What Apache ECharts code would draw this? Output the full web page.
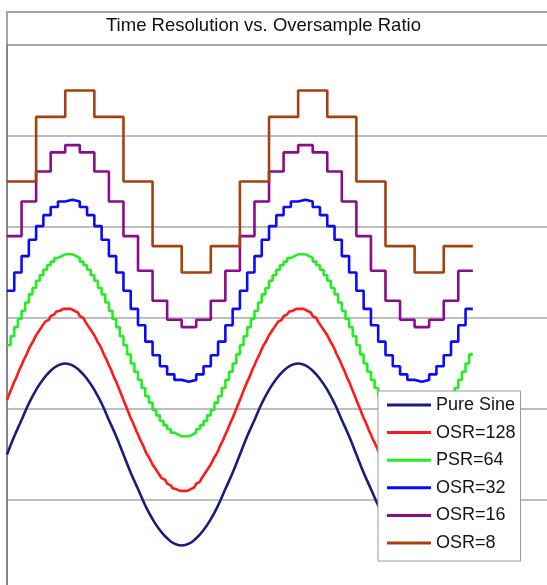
<!DOCTYPE html>
<html>
<head>
<meta charset="utf-8">
<title>Time Resolution vs. Oversample Ratio</title>
<script src="https://cdn.jsdelivr.net/npm/echarts@6/dist/echarts.min.js"></script>
<style>
  html, body { margin: 0; padding: 0; background: #fff; }
  #chart { width: 547px; height: 585px; }
</style>
</head>
<body>
<div id="chart"></div>
<script>
// series names (legend order)
const seriesNames = ['Pure Sine', 'OSR=128', 'PSR=64', 'OSR=32', 'OSR=16', 'OSR=8']
// vertical offset of each trace (y axis units)
const offsets = [1.5, 2.1, 2.7, 3.3, 3.9, 4.5]
// samples per cycle for each trace
const samplesPerCycle = [32, 128, 64, 32, 16, 8]

// waveforms, two cycles each
const pureSine = [
  0, .20, .38, .56, .71, .83, .92, .98, 1, .98, .92, .83, .71, .56, .38, .20,
  0, -.20, -.38, -.56, -.71, -.83, -.92, -.98, -1, -.98, -.92, -.83, -.71, -.56, -.38, -.20,
  0, .20, .38, .56, .71, .83, .92, .98, 1, .98, .92, .83, .71, .56, .38, .20,
  0, -.20, -.38, -.56, -.71, -.83, -.92, -.98, -1, -.98, -.92, -.83, -.71, -.56, -.38, -.20,
  0
]
const osr128 = [
  0, .05, .10, .15, .20, .24, .29, .34, .38, .43, .47, .51, .56, .60, .63, .67,
  .71, .74, .77, .80, .83, .86, .88, .90, .92, .94, .96, .97, .98, .99, 1, 1,
  1, 1, 1, .99, .98, .97, .96, .94, .92, .90, .88, .86, .83, .80, .77, .74,
  .71, .67, .63, .60, .56, .51, .47, .43, .38, .34, .29, .24, .20, .15, .10, .05,
  0, -.05, -.10, -.15, -.20, -.24, -.29, -.34, -.38, -.43, -.47, -.51, -.56, -.60, -.63, -.67,
  -.71, -.74, -.77, -.80, -.83, -.86, -.88, -.90, -.92, -.94, -.96, -.97, -.98, -.99, -1, -1,
  -1, -1, -1, -.99, -.98, -.97, -.96, -.94, -.92, -.90, -.88, -.86, -.83, -.80, -.77, -.74,
  -.71, -.67, -.63, -.60, -.56, -.51, -.47, -.43, -.38, -.34, -.29, -.24, -.20, -.15, -.10, -.05,
  0, .05, .10, .15, .20, .24, .29, .34, .38, .43, .47, .51, .56, .60, .63, .67,
  .71, .74, .77, .80, .83, .86, .88, .90, .92, .94, .96, .97, .98, .99, 1, 1,
  1, 1, 1, .99, .98, .97, .96, .94, .92, .90, .88, .86, .83, .80, .77, .74,
  .71, .67, .63, .60, .56, .51, .47, .43, .38, .34, .29, .24, .20, .15, .10, .05,
  0, -.05, -.10, -.15, -.20, -.24, -.29, -.34, -.38, -.43, -.47, -.51, -.56, -.60, -.63, -.67,
  -.71, -.74, -.77, -.80, -.83, -.86, -.88, -.90, -.92, -.94, -.96, -.97, -.98, -.99, -1, -1,
  -1, -1, -1, -.99, -.98, -.97, -.96, -.94, -.92, -.90, -.88, -.86, -.83, -.80, -.77, -.74,
  -.71, -.67, -.63, -.60, -.56, -.51, -.47, -.43, -.38, -.34, -.29, -.24, -.20, -.15, -.10, -.05
]
const psr64 = [
  0, .10, .20, .29, .38, .47, .56, .63, .71, .77, .83, .88, .92, .96, .98, 1,
  1, 1, .98, .96, .92, .88, .83, .77, .71, .63, .56, .47, .38, .29, .20, .10,
  0, -.10, -.20, -.29, -.38, -.47, -.56, -.63, -.71, -.77, -.83, -.88, -.92, -.96, -.98, -1,
  -1, -1, -.98, -.96, -.92, -.88, -.83, -.77, -.71, -.63, -.56, -.47, -.38, -.29, -.20, -.10,
  0, .10, .20, .29, .38, .47, .56, .63, .71, .77, .83, .88, .92, .96, .98, 1,
  1, 1, .98, .96, .92, .88, .83, .77, .71, .63, .56, .47, .38, .29, .20, .10,
  0, -.10, -.20, -.29, -.38, -.47, -.56, -.63, -.71, -.77, -.83, -.88, -.92, -.96, -.98, -1,
  -1, -1, -.98, -.96, -.92, -.88, -.83, -.77, -.71, -.63, -.56, -.47, -.38, -.29, -.20, -.10
]
const osr32 = [
  0, .20, .38, .56, .71, .83, .92, .98, 1, .98, .92, .83, .71, .56, .38, .20,
  0, -.20, -.38, -.56, -.71, -.83, -.92, -.98, -1, -.98, -.92, -.83, -.71, -.56, -.38, -.20,
  0, .20, .38, .56, .71, .83, .92, .98, 1, .98, .92, .83, .71, .56, .38, .20,
  0, -.20, -.38, -.56, -.71, -.83, -.92, -.98, -1, -.98, -.92, -.83, -.71, -.56, -.38, -.20
]
const osr16 = [
  0, .38, .71, .92, 1, .92, .71, .38, 0, -.38, -.71, -.92, -1, -.92, -.71, -.38,
  0, .38, .71, .92, 1, .92, .71, .38, 0, -.38, -.71, -.92, -1, -.92, -.71, -.38
]
const osr8 = [0, .71, 1, .71, 0, -.71, -1, -.71, 0, .71, 1, .71, 0, -.71, -1, -.71]

const waves = [pureSine, osr128, psr64, osr32, osr16, osr8]
const colors = ['#1c1c80', '#ff1a1a', '#22ee22', '#0a0aff', '#8c0a8c', '#a3420f']

// x = time in cycles, y = sample value + trace offset
const toPoints = (values, perCycle, offset, hold) => {
  const pts = values.map((v, k) => [k / perCycle, v + offset])
  // sample-and-hold: extend the last step to the end of its period
  if (hold) pts.push([values.length / perCycle, values[values.length - 1] + offset])
  return pts
}

const chart = echarts.init(document.getElementById('chart'))

const option = {
  animation: false,
  backgroundColor: '#fff',
  textStyle: { fontFamily: '"Liberation Sans", Arial, sans-serif' },
  graphic: [
    {
      type: 'rect',
      z: 0,
      shape: { x: 7, y: 12, width: 600, height: 33 },
      style: { fill: '#fff', stroke: '#a4a4a4', lineWidth: 2 }
    }
  ],
  title: {
    text: 'Time Resolution vs. Oversample Ratio',
    left: 106,
    top: 16,
    padding: 0,
    textStyle: {
      fontSize: 18.5,
      fontWeight: 'normal',
      color: '#111',
      fontFamily: '"Liberation Sans", Arial, sans-serif'
    }
  },
  legend: {
    orient: 'vertical',
    left: 378,
    top: 391,
    z: 20,
    padding: [5, 5, 9, 9],
    itemWidth: 44,
    itemHeight: 3,
    itemGap: 9.6,
    icon: 'rect',
    backgroundColor: '#fff',
    borderColor: '#9a9a9a',
    borderWidth: 1,
    data: seriesNames,
    textStyle: {
      fontSize: 18,
      lineHeight: 18,
      color: '#151515',
      fontFamily: '"Liberation Sans", Arial, sans-serif'
    }
  },
  grid: {
    left: 7,
    top: 45,
    width: 559,
    height: 546,
    outerBoundsMode: 'none',
    containLabel: false
  },
  xAxis: {
    type: 'value',
    min: 0,
    max: 2.4,
    show: false
  },
  yAxis: {
    type: 'value',
    min: 0,
    max: 6,
    interval: 1,
    axisLine: { show: true, lineStyle: { color: '#858585', width: 2 } },
    axisTick: { show: false },
    axisLabel: { show: false },
    splitLine: { lineStyle: { color: '#a8a8a8', width: 1.5 } }
  },
  series: seriesNames.map((name, i) => ({
    name,
    type: 'line',
    data: toPoints(waves[i], samplesPerCycle[i], offsets[i], i > 0),
    step: i > 0 ? 'end' : false,
    smooth: i === 0,
    showSymbol: false,
    color: colors[i],
    lineStyle: { width: 2.6, color: colors[i] }
  }))
}

chart.setOption(option)
</script>
</body>
</html>
